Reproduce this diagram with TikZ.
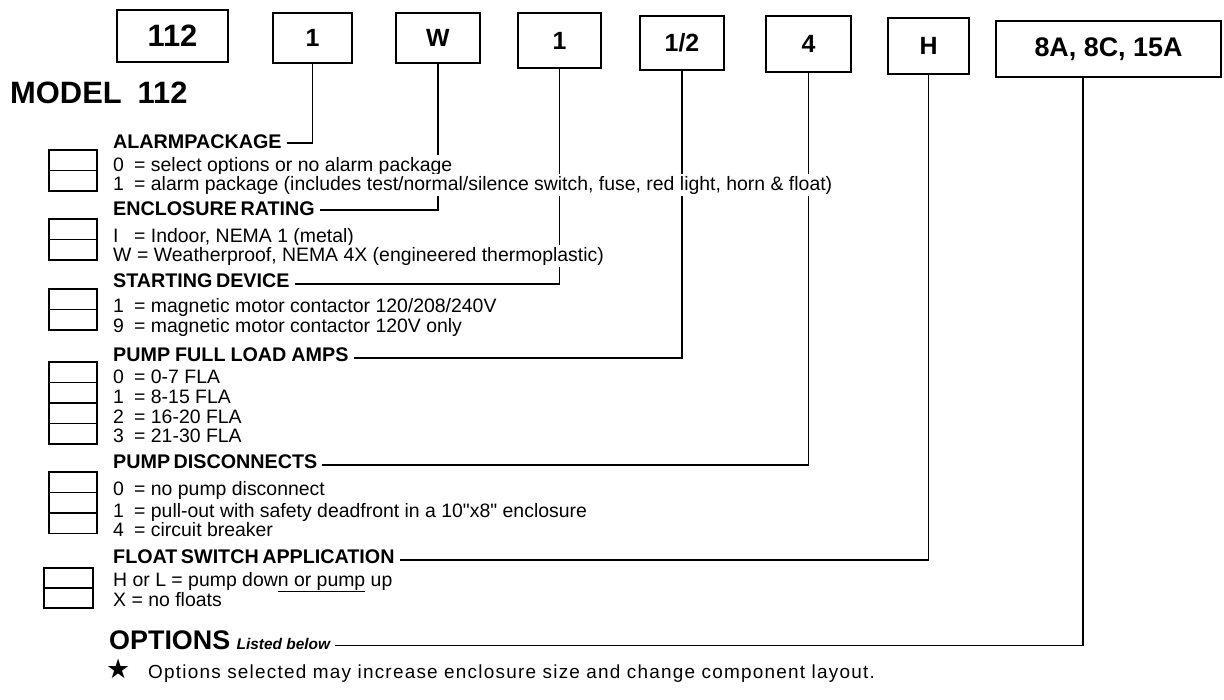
\documentclass[tikz,border=0pt]{standalone}
\usepackage{fontspec}
\setmainfont{Liberation Sans}[Ligatures=TeXOff]
\newfontfamily\symfont{DejaVu Sans}
\newfontfamily\spacedfont[LetterSpace=6.5,Ligatures=TeXOff]{Liberation Sans}
\usetikzlibrary{backgrounds}
\newcommand\kv[2]{\makebox[21bp][l]{#1}#2}
\newcommand\hs{\hspace{3.5bp}}
\tikzset{
  topbox/.style={draw, line width=1.9bp, inner sep=0pt, font=\bfseries\fontsize{25}{26}\selectfont},
  chk/.style={draw, line width=1.6bp},
  head/.style={anchor=west, inner sep=0pt, fill=white, font=\bfseries\fontsize{19.8}{20}\selectfont},
  body/.style={anchor=west, inner xsep=0pt, inner ysep=1.5bp, fill=white, font=\fontsize{19.5}{20}\selectfont},
  conn/.style={line width=1.3bp, shorten >=5bp},
}
\begin{document}
\begin{tikzpicture}[x=1bp,y=-1bp]
\useasboundingbox (0,0) rectangle (1224,700);

% top code boxes
\node[topbox, minimum width=111bp, minimum height=52bp, font=\bfseries\fontsize{31}{32}\selectfont] (b112) at (172.5,36) {112};
\node[topbox, minimum width=79bp, minimum height=50bp] (b1) at (312.5,38) {1};
\node[topbox, minimum width=84bp, minimum height=50bp] (bW) at (438,38) {W};
\node[topbox, minimum width=83bp, minimum height=55bp] (bS) at (559.5,40.5) {1};
\node[topbox, minimum width=84bp, minimum height=54bp] (bF) at (682,43) {1/2};
\node[topbox, minimum width=85bp, minimum height=56bp] (bD) at (808.5,44) {4};
\node[topbox, minimum width=81bp, minimum height=56bp] (bH) at (928.5,46) {H};
\node[topbox, minimum width=225bp, minimum height=56bp, font=\bfseries\fontsize{27}{28}\selectfont] (bO) at (1108.5,49) {8A, 8C, 15A};
\coordinate (cO) at (1083,0);

% title
\node[anchor=base west, inner sep=0pt, font=\bfseries\fontsize{31}{32}\selectfont] (title) at (10,104) {MODEL\hspace{16bp}112};

% headings
\node[head] (hA) at (113,142) {ALARMPACKAGE};
\node[head] (hE) at (113,209) {ENCLOSURE\hs RATING};
\node[head] (hS) at (113,281) {STARTING\hs DEVICE};
\node[head] (hF) at (113,355) {PUMP\hspace{5bp}FULL\hspace{5bp}LOAD\hspace{5bp}AMPS};
\node[head] (hD) at (113,462) {PUMP\hs DISCONNECTS};
\node[head] (hH) at (113,557) {FLOAT\hs SWITCH\hs APPLICATION};
\node[anchor=base west, inner sep=0pt, font=\bfseries\fontsize{27}{28}\selectfont] (opt) at (109,649) {OPTIONS};
\node[anchor=base west, inner sep=0pt, font=\bfseries\itshape\fontsize{15.5}{16}\selectfont] (lb) at ([xshift=6bp]opt.base east) {Listed below};

% body lines
\node[body] (a0) at (113,166) {\kv{0}{= select options or no alarm package}};
\node[body] (a1) at (113,185) {\kv{1}{= alarm package (includes test/normal/silence switch, fuse, red light, horn \& float)}};
\node[body] (e0) at (113,237) {\kv{I}{= Indoor, NEMA 1 (metal)}};
\node[body] (e1) at (113,256) {\kv{W}{\hspace{3bp}= Weatherproof, NEMA 4X (engineered thermoplastic)}};
\node[body] (s0) at (113,307) {\kv{1}{= magnetic motor contactor 120/208/240V}};
\node[body] (s1) at (113,327) {\kv{9}{= magnetic motor contactor 120V only}};
\node[body] (f0) at (113,377) {\kv{0}{= 0-7 FLA}};
\node[body] (f1) at (113,397) {\kv{1}{= 8-15 FLA}};
\node[body] (f2) at (113,417) {\kv{2}{= 16-20 FLA}};
\node[body] (f3) at (113,436) {\kv{3}{= 21-30 FLA}};
\node[body] (d0) at (113,490) {\kv{0}{= no pump disconnect}};
\node[body] (d1) at (113,512) {\kv{1}{= pull-out with safety deadfront in a 10"x8" enclosure}};
\node[body] (d2) at (113,530) {\kv{4}{= circuit breaker}};
\node[body] (l0) at (113,582) {H or L = pump dow\underline{n or pump} up};
\node[body] (l1) at (113,600) {X = no floats};

% note
\node[anchor=west, inner sep=0pt, font=\symfont\fontsize{27}{28}\selectfont] (star) at (106,669) {★};
\node[anchor=west, inner sep=0pt, font=\spacedfont\fontsize{19}{20}\selectfont] (note) at (148,674) {Options selected may increase enclosure size and change component layout.};

% check boxes
\foreach \y/\n in {150/2,219/2,289/2,362/4,472/3}{
  \draw[chk] (49,\y) rectangle (97,{\y+20.5*\n});
  \foreach \k in {1,...,\n}{ \ifnum\k<\n \draw[chk] (49,{\y+20.5*\k}) -- (97,{\y+20.5*\k}); \fi }
}
\draw[chk] (44,568) rectangle (93,608);
\draw[chk] (44,588) -- (93,588);

% connectors
\begin{pgfonlayer}{background}
\draw[conn] (b1.south) |- ([yshift=-1bp]hA.east);
\draw[conn] (bW.south) |- ([yshift=-1bp]hE.east);
\draw[conn] (bS.south) |- ([yshift=-3bp]hS.east);
\draw[conn] (bF.south) |- ([yshift=-3bp]hF.east);
\draw[conn] (bD.south) |- ([yshift=-3bp]hD.east);
\draw[conn] (bH.south) |- ([yshift=-3bp]hH.east);
\draw[conn] (bO.south -| cO) |- ([yshift=-2bp]lb.east);
\end{pgfonlayer}
\end{tikzpicture}
\end{document}
